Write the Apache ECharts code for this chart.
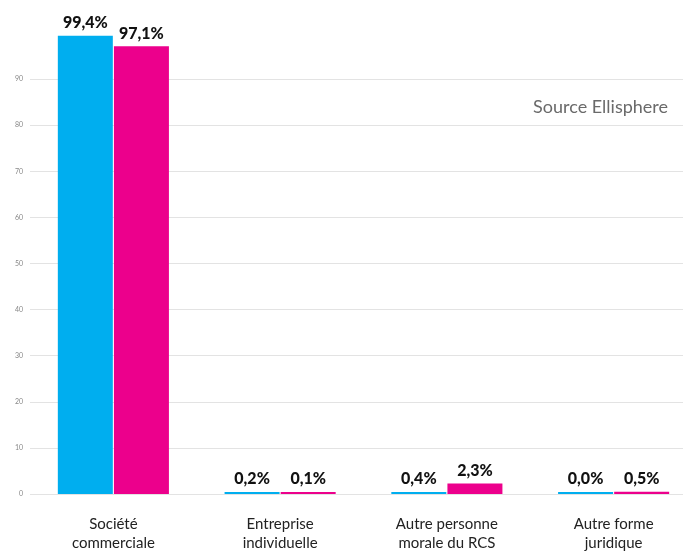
<!DOCTYPE html>
<html>
<head>
<meta charset="utf-8">
<script src="https://cdn.jsdelivr.net/npm/echarts@6/dist/echarts.min.js"></script>
<style>
html,body{margin:0;padding:0;background:#fff;}
#chart{width:683px;height:554px;}
</style>
</head>
<body>
<div id="chart"></div>
<script>
var categories = ["Société\ncommerciale", "Entreprise\nindividuelle", "Autre personne\nmorale du RCS", "Autre forme\njuridique"];
var seriesA = [99.4, 0.2, 0.4, 0.0];
var seriesB = [97.1, 0.1, 2.3, 0.5];
var yTicks = [0, 10, 20, 30, 40, 50, 60, 70, 80, 90, 100];
var sourceText = "Source Ellisphere";

var chart = echarts.init(document.getElementById('chart'), null, {renderer: 'canvas'});
var lineColors = yTicks.map(function (t) { return t === 100 ? 'rgba(0,0,0,0)' : '#e3e3e3'; });

function fmt(v) { return v.toFixed(1).replace('.', ',') + '%'; }

var labelStyle = {
  show: true,
  position: 'top',
  distance: 5,
  fontFamily: 'Lato',
  fontWeight: 900,
  fontSize: 16,
  color: '#111',
  formatter: function (p) { return fmt(p.value); }
};

chart.setOption({
  animation: false,
  backgroundColor: '#fff',
  grid: {left: 30, width: 667, top: 33, bottom: 60, containLabel: false, outerBoundsMode: 'none'},
  graphic: [{
    type: 'text', right: 15, top: 98,
    style: {text: sourceText, fontFamily: 'Lato', fontSize: 18, fill: '#6a6a6a'}
  }],
  xAxis: {
    type: 'category',
    data: categories,
    axisLine: {show: false},
    axisTick: {show: false},
    axisLabel: {
      fontFamily: 'Lato', fontSize: 15, color: '#222', lineHeight: 19, margin: 21, interval: 0
    }
  },
  yAxis: {
    type: 'value',
    min: 0, max: 100, interval: 10,
    axisLine: {show: false},
    axisTick: {show: false},
    axisLabel: {
      showMaxLabel: false, fontFamily: 'Lato', fontSize: 7, color: '#888', margin: 7
    },
    splitLine: {show: true, lineStyle: {color: lineColors, width: 1}}
  },
  series: [{
    type: 'bar', data: seriesA, barWidth: 55, barGap: '2%', barMinHeight: 2,
    itemStyle: {color: '#00AEEF'}, label: labelStyle
  }, {
    type: 'bar', data: seriesB, barWidth: 55, barGap: '2%', barMinHeight: 2,
    itemStyle: {color: '#EC008C'}, label: labelStyle
  }]
});
</script>
</body>
</html>
